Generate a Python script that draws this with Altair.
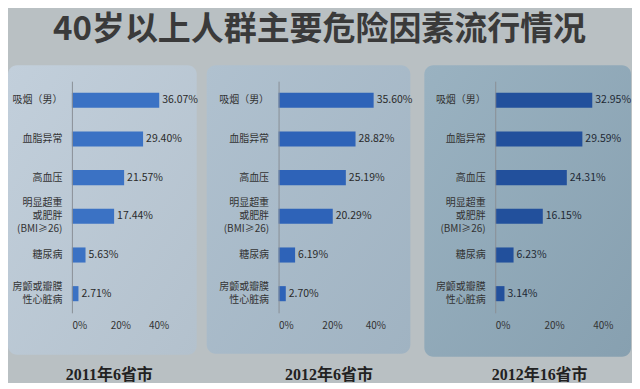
import altair as alt
import pandas as pd

title_text = "40岁以上人群主要危险因素流行情况"
categories = ["吸烟（男）", "血脂异常", "高血压", "明显超重|或肥胖|(BMI≥26)", "糖尿病", "房颤或瓣膜|性心脏病"]
v2011_6 = [36.07, 29.40, 21.57, 17.44, 5.63, 2.71]
v2012_6 = [35.60, 28.82, 25.19, 20.29, 6.19, 2.70]
v2012_16 = [32.95, 29.59, 24.31, 16.15, 6.23, 3.14]
captions = ["2011年6省市", "2012年6省市", "2012年16省市"]
x_ticks = [0, 20, 40]

CJK = "Noto Sans CJK SC"
H = 232
LH = 13

label_offset = {
    "condition": [
        {"test": "length(split(datum.value, '|')) == 3", "value": -LH},
        {"test": "length(split(datum.value, '|')) == 2", "value": -LH / 2},
    ],
    "value": 0,
}


def panel(values, caption, width, bar_color, bg_stops, bg_box, cap_x, txt_color):
    df = pd.DataFrame({"cat": categories, "val": values})
    bg = alt.Chart(pd.DataFrame({"a": [0]})).mark_rect(
        cornerRadius=9,
        color={"x1": 0, "y1": 0, "x2": 1, "y2": 1, "gradient": "linear",
               "stops": [{"offset": 0, "color": bg_stops[0]}, {"offset": 1, "color": bg_stops[1]}]},
    ).encode(
        x=alt.value(bg_box[0]), x2=alt.value(bg_box[1]),
        y=alt.value(bg_box[2]), y2=alt.value(bg_box[3]),
    )
    base = alt.Chart(df).encode(
        y=alt.Y("cat:N", sort=categories,
                scale=alt.Scale(paddingInner=0.61, paddingOuter=0.3),
                axis=alt.Axis(title=None, labelExpr="split(datum.label, '|')",
                              ticks=False, domainColor="#8a8f96", domainWidth=1,
                              labelPadding=10, labelFontSize=10, labelFont=CJK,
                              labelColor="#333333", labelLineHeight=LH,
                              labelOffset=label_offset, zindex=1)),
        x=alt.X("val:Q", scale=alt.Scale(domain=[0, 40]),
                axis=alt.Axis(values=x_ticks, labelExpr="datum.value + '%'",
                              grid=False, domain=False, ticks=False, labelPadding=8,
                              labelFontSize=10, labelFont=CJK, labelColor="#333333",
                              title=caption, titleFont="Liberation Serif, " + CJK,
                              titleFontSize=16, titleFontWeight="bold",
                              titleColor="#222222", titleX=cap_x, titleY=62,
                              titleBaseline="middle", titleAlign="center", zindex=1)),
    )
    bars = base.mark_bar(color=bar_color)
    labels = base.transform_calculate(
        lbl="format(datum.val, '.2f') + '%'"
    ).mark_text(align="left", dx=3, fontSize=10.5, font=CJK, color=txt_color).encode(
        text="lbl:N")
    return alt.layer(bg, bars, labels).properties(width=width, height=H)


p1 = panel(v2011_6, captions[0], 97, "#3b72c4", ["#c2cfdb", "#b3c1cd"],
           [-64, 125, -16, 274], 37, "#2a2a2a")
p2 = panel(v2012_6, captions[1], 107, "#2e63b8", ["#b0c1cf", "#a0b3c2"],
           [-72, 132, -16, 273], 50, "#2a2a2a")
p3 = panel(v2012_16, captions[2], 118, "#22509c", ["#9ab2c1", "#87a0b0"],
           [-71, 136, -16, 276], 44, "#1e2834")

chart = alt.hconcat(p1, p2, p3, spacing=110, bounds="flush").properties(
    title=alt.Title(title_text, fontSize=33, font=CJK, fontWeight="bold",
                    color="#3a3a3a", offset=18, anchor="middle"),
    background="#b9c0c3",
    padding={"top": 6, "left": 0, "right": 0, "bottom": 0},
).configure_view(stroke=None)

chart.save("out.html", embed_options={"renderer": "svg", "actions": False})
